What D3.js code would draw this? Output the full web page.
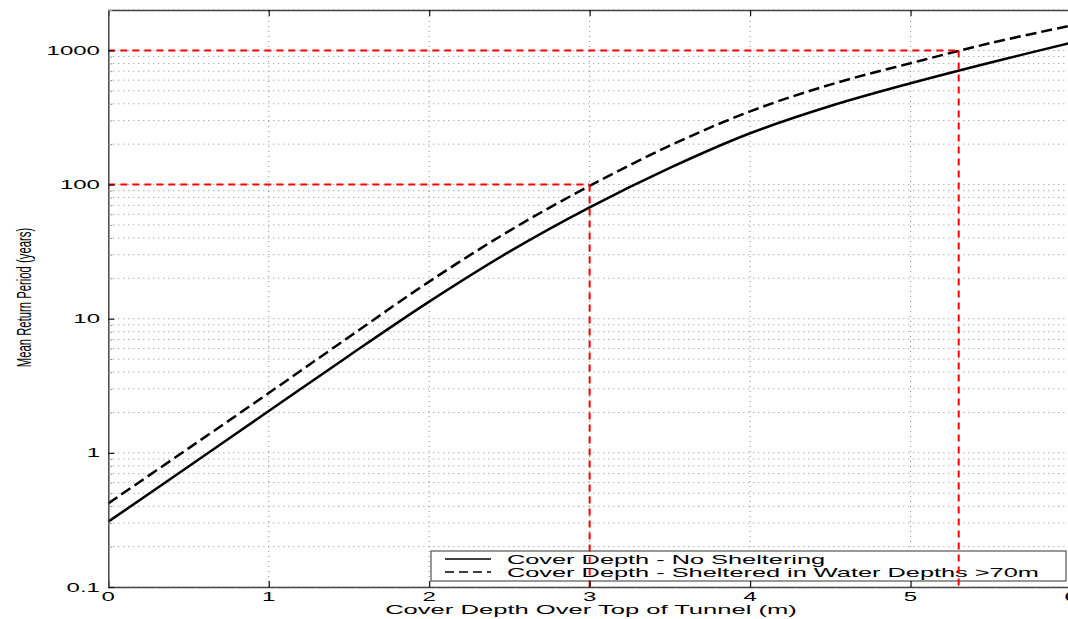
<!DOCTYPE html>
<html>
<head>
<meta charset="utf-8">
<script src="https://cdn.jsdelivr.net/npm/d3@7"></script>
<style>
  body { margin: 0; background: #fff; }
  text { font-family: "Liberation Sans", Arial, sans-serif; fill: #000; }
</style>
</head>
<body>
<svg id="chart" width="1068" height="619"></svg>
<script>
// data
const depth = [0, 0.5, 1, 1.5, 2, 2.5, 3, 3.5, 4, 4.5, 5, 5.5, 6];
const noShelter = [0.307, 0.79, 2.05, 5.3, 13.4, 31.6, 67.6, 133, 241, 385, 569, 813, 1140];
const sheltered = [0.42, 1.08, 2.79, 7.3, 18.9, 45.2, 97.7, 195, 351, 556, 802, 1135, 1530];
const xTicks = [0, 1, 2, 3, 4, 5, 6];
const yTicks = [0.1, 1, 10, 100, 1000];
const yTickLabels = ["0.1", "1", "10", "100", "1000"];
const seriesNames = ["Cover Depth - No Sheltering", "Cover Depth - Sheltered in Water Depths >70m"];
// design return periods marked in red: [depth, period]
const markers = [[3, 100], [5.3, 1000]];

const sx = 1.85; // text is stretched wide in the original
const svg = d3.select("#chart");

const x = d3.scaleLinear().domain([0, 6]).range([108.3, 1071]);
const y = d3.scaleLog().domain([0.1, 2000]).range([587, 10]);

// minor log ticks
const minor = [];
[0.1, 1, 10, 100, 1000].forEach(d => {
  for (let k = 2; k <= 9; k++) if (d * k <= 2000) minor.push(d * k);
});

// grid
const grid = svg.append("g").attr("stroke", "#8a8a8a").attr("stroke-width", 1).attr("stroke-dasharray", "1,4");
grid.selectAll(".hy").data(yTicks.concat(minor)).enter().append("line")
  .attr("x1", x(0)).attr("x2", x(6)).attr("y1", d => y(d)).attr("y2", d => y(d));
grid.selectAll(".vx").data(xTicks.slice(1, 6)).enter().append("line")
  .attr("x1", d => x(d)).attr("x2", d => x(d)).attr("y1", y(0.1)).attr("y2", y(2000));

// curves
const line = d3.line().x((d, i) => x(depth[i])).y(d => y(d)).curve(d3.curveCatmullRom.alpha(0.5));
svg.append("path").attr("d", line(noShelter)).attr("fill", "none")
  .attr("stroke", "#000").attr("stroke-width", 2.5);
svg.append("path").attr("d", line(sheltered)).attr("fill", "none")
  .attr("stroke", "#000").attr("stroke-width", 2.5).attr("stroke-dasharray", "11,5");

// legend
const lg = svg.append("g");
lg.append("rect").attr("x", 431).attr("y", 551).attr("width", 635).attr("height", 30)
  .attr("fill", "#fff").attr("stroke", "#333").attr("stroke-width", 1);
seriesNames.forEach((name, i) => {
  const yy = 559 + i * 13;
  lg.append("line").attr("x1", 445).attr("x2", 491).attr("y1", yy).attr("y2", yy)
    .attr("stroke", "#000").attr("stroke-width", 1.6)
    .attr("stroke-dasharray", i ? "9,5" : null);
  lg.append("text").attr("transform", `translate(507,${yy + 4.5}) scale(1.95,1)`)
    .attr("font-size", 13).text(name);
});

// red design lines
const red = svg.append("g").attr("stroke", "#ff0000").attr("stroke-width", 2)
  .attr("stroke-dasharray", "7,5").attr("fill", "none");
markers.forEach(([d, p]) => {
  red.append("line").attr("x1", x(0)).attr("x2", x(d)).attr("y1", y(p)).attr("y2", y(p));
  red.append("line").attr("x1", x(d)).attr("x2", x(d)).attr("y1", y(p)).attr("y2", y(0.1));
});

// axes
const axB = svg.append("g").attr("transform", `translate(0,${y(0.1)})`)
  .call(d3.axisBottom(x).tickValues(xTicks).tickSizeInner(-6).tickSizeOuter(0).tickFormat(""));
const axT = svg.append("g").attr("transform", `translate(0,${y(2000)})`)
  .call(d3.axisTop(x).tickValues(xTicks).tickSizeInner(-6).tickSizeOuter(0).tickFormat(""));
const axL = svg.append("g").attr("transform", `translate(${x(0)},0)`)
  .call(d3.axisLeft(y).tickValues(yTicks).tickSizeInner(-6).tickSizeOuter(0).tickFormat(""));
const axLm = svg.append("g").attr("transform", `translate(${x(0)},0)`)
  .call(d3.axisLeft(y).tickValues(minor).tickSizeInner(-4).tickSizeOuter(0).tickFormat(""));
[axB, axT, axL].forEach(a => {
  a.select(".domain").attr("stroke", "#444").attr("stroke-width", 1.5);
  a.selectAll(".tick line").attr("stroke", "#111").attr("stroke-width", 1.2);
});
axLm.select(".domain").remove();
axLm.selectAll(".tick line").attr("stroke", "#999").attr("stroke-width", 1);

// tick labels
svg.selectAll(".ylab").data(yTicks).enter().append("text")
  .attr("transform", d => `translate(100,${y(d) + 4.5}) scale(${sx},1)`)
  .attr("text-anchor", "end").attr("font-size", 13)
  .text((d, i) => yTickLabels[i]);
svg.selectAll(".xlab").data(xTicks).enter().append("text")
  .attr("transform", d => `translate(${x(d)},601) scale(${sx},1)`)
  .attr("text-anchor", "middle").attr("font-size", 13)
  .text(d => d);

// axis titles
svg.append("text").attr("transform", "translate(591,614) scale(2,1)")
  .attr("text-anchor", "middle").attr("font-size", 12.8)
  .text("Cover Depth Over Top of Tunnel (m)");
svg.append("text").attr("transform", `translate(31,297.5) scale(${sx},1) rotate(-90)`)
  .attr("text-anchor", "middle").attr("font-size", 11.3)
  .text("Mean Return Period (years)");
</script>
</body>
</html>
